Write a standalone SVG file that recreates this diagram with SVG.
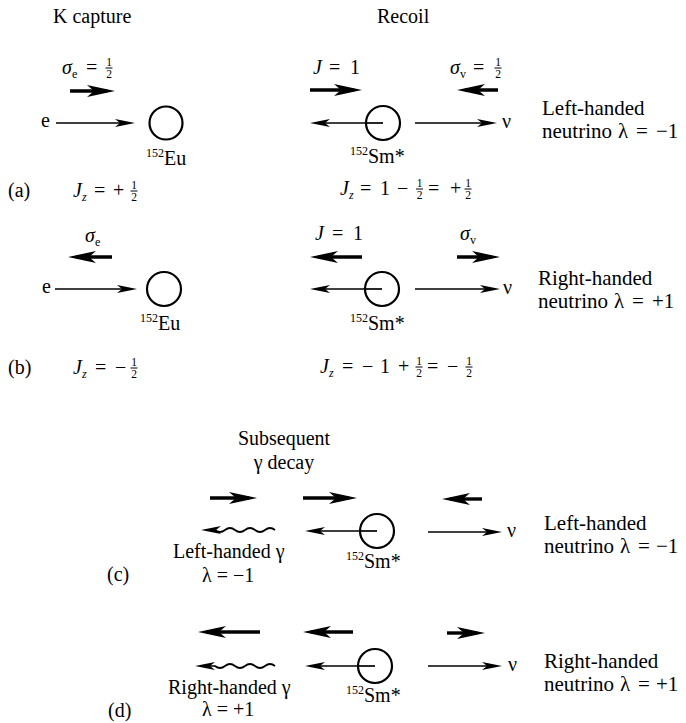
<svg xmlns="http://www.w3.org/2000/svg" width="686" height="723" viewBox="0 0 686 723" font-family="'Liberation Serif', 'DejaVu Serif', 'Times New Roman', serif">
<style>
text { font-family: 'Liberation Serif', 'DejaVu Serif', 'Times New Roman', serif; font-size: 20px; fill: #000; }
.it { font-style: italic; }
.sm { font-size: 12px; }
.fr { font-size: 11.5px; text-anchor: middle; }
.mid { text-anchor: middle; }
.lbl { font-size: 21px; }
.nuc { fill: #fff; stroke: #000; stroke-width: 2.2; }
.thin { stroke: #000; stroke-width: 1.7; fill: none; marker-end: url(#hThin); }
.thick { stroke: #000; stroke-width: 3.4; fill: none; marker-end: url(#hThick); }
.stub { stroke: #000; stroke-width: 1.7; }
.fbar { stroke: #000; stroke-width: 1; }
</style>
<defs>
<marker id="hThin" markerUnits="userSpaceOnUse" viewBox="-16 -5 22 10" refX="0" refY="0" markerWidth="22" markerHeight="10" orient="auto" overflow="visible">
<path d="M5,0 L-15,-4 L-10,0 L-15,4 Z" fill="#000"/>
</marker>
<marker id="hThick" markerUnits="userSpaceOnUse" viewBox="-21 -7 30 14" refX="0" refY="0" markerWidth="30" markerHeight="14" orient="auto" overflow="visible">
<path d="M8,0 L-20,-6 L-13,0 L-20,6 Z" fill="#000"/>
</marker>
</defs>

<g id="headings">
<text x="53" y="23">K capture</text>
<text x="377" y="23">Recoil</text>
<text class="mid" x="284" y="445">Subsequent</text>
<text class="mid" x="284" y="469">γ decay</text>
</g>

<g id="connectors">
<line class="thick" x1="70" y1="91" x2="107" y2="91"/>
<line class="thin" x1="56" y1="123" x2="130" y2="123"/>
<line class="thick" x1="310" y1="90" x2="354" y2="90"/>
<line class="thick" x1="498" y1="90" x2="465" y2="90"/>
<line class="thin" x1="383" y1="123" x2="315" y2="123"/>
<line class="thin" x1="415" y1="123" x2="492" y2="123"/>
<line class="thick" x1="112" y1="257" x2="76" y2="257"/>
<line class="thin" x1="55" y1="289" x2="132" y2="289"/>
<line class="thick" x1="362" y1="257" x2="318" y2="257"/>
<line class="thick" x1="457" y1="257" x2="492" y2="257"/>
<line class="thin" x1="382" y1="289" x2="315" y2="289"/>
<line class="thin" x1="415" y1="289" x2="495" y2="289"/>
<line class="thick" x1="210" y1="498" x2="249" y2="498"/>
<line class="thick" x1="303" y1="498" x2="349" y2="498"/>
<line class="thick" x1="482" y1="499" x2="450" y2="499"/>
<path class="thin" d="M275,530 q-5,-4 -10,0 t-10,0 t-10,0 t-10,0 t-10,0 t-10,0 L206,530"/>
<line class="thin" x1="377" y1="531" x2="310" y2="531"/>
<line class="thin" x1="428" y1="532" x2="497" y2="532"/>
<line class="thick" x1="260" y1="632" x2="206" y2="632"/>
<line class="thick" x1="353" y1="632" x2="311" y2="632"/>
<line class="thick" x1="447" y1="633" x2="477" y2="633"/>
<path class="thin" d="M275,666 q-5,-4 -10,0 t-10,0 t-10,0 t-10,0 t-10,0 t-10,0 L200,666"/>
<line class="thin" x1="375" y1="666" x2="310" y2="666"/>
<line class="thin" x1="428" y1="666" x2="497" y2="666"/>
</g>

<g id="eu-a">
<circle class="nuc" cx="166" cy="123" r="16.5"/>
<text x="146" y="165"><tspan class="sm" dy="-8">152</tspan><tspan dy="8">Eu</tspan></text>
</g>
<g id="sm-a">
<circle class="nuc" cx="383" cy="123" r="17"/>
<line class="stub" x1="383" y1="123" x2="366" y2="123"/>
<text x="350" y="163"><tspan class="sm" dy="-8">152</tspan><tspan dy="8">Sm*</tspan></text>
</g>
<g id="eu-b">
<circle class="nuc" cx="164" cy="289" r="17"/>
<text x="140" y="330"><tspan class="sm" dy="-8">152</tspan><tspan dy="8">Eu</tspan></text>
</g>
<g id="sm-b">
<circle class="nuc" cx="382" cy="289" r="17"/>
<line class="stub" x1="382" y1="289" x2="365" y2="289"/>
<text x="350" y="330"><tspan class="sm" dy="-8">152</tspan><tspan dy="8">Sm*</tspan></text>
</g>
<g id="sm-c">
<circle class="nuc" cx="377" cy="531" r="17"/>
<line class="stub" x1="377" y1="531" x2="360" y2="531"/>
<text x="346" y="568"><tspan class="sm" dy="-8">152</tspan><tspan dy="8">Sm*</tspan></text>
</g>
<g id="sm-d">
<circle class="nuc" cx="375" cy="666" r="17"/>
<line class="stub" x1="375" y1="666" x2="358" y2="666"/>
<text x="346" y="702"><tspan class="sm" dy="-8">152</tspan><tspan dy="8">Sm*</tspan></text>
</g>

<g id="labels">
<text x="41" y="127">e</text>
<text x="42" y="293">e</text>
<text x="502" y="128">ν</text>
<text x="503" y="294">ν</text>
<text x="507" y="537">ν</text>
<text x="508" y="671">ν</text>

<text x="62" y="74"><tspan class="it">σ</tspan><tspan class="sm" dy="4">e</tspan><tspan x="86" dy="-4">=</tspan></text>
<text x="109" y="66" class="fr">1</text><line class="fbar" x1="105.5" y1="68" x2="112.5" y2="68"/><text x="109" y="77.5" class="fr">2</text>
<text x="313" y="74"><tspan class="it">J</tspan><tspan x="329">=</tspan><tspan x="350">1</tspan></text>
<text x="450" y="74"><tspan class="it">σ</tspan><tspan class="sm" dy="4">v</tspan><tspan x="473" dy="-4">=</tspan></text>
<text x="498" y="66" class="fr">1</text><line class="fbar" x1="494.5" y1="68" x2="501.5" y2="68"/><text x="498" y="77.5" class="fr">2</text>

<text x="8" y="197">(a)</text>
<text x="73" y="197"><tspan class="it">J</tspan><tspan class="sm it" dy="4">z</tspan><tspan x="94" dy="-4">=</tspan><tspan x="113">+</tspan></text>
<text x="134" y="189" class="fr">1</text><line class="fbar" x1="130.5" y1="191" x2="137.5" y2="191"/><text x="134" y="200.5" class="fr">2</text>
<text x="340" y="195"><tspan class="it">J</tspan><tspan class="sm it" dy="4">z</tspan><tspan x="360" dy="-4">=</tspan><tspan x="380">1</tspan><tspan x="397">−</tspan></text>
<text x="419.5" y="187" class="fr">1</text><line class="fbar" x1="416" y1="189" x2="423" y2="189"/><text x="419.5" y="198.5" class="fr">2</text>
<text x="428" y="195">=<tspan x="450">+</tspan></text>
<text x="468" y="187" class="fr">1</text><line class="fbar" x1="464.5" y1="189" x2="471.5" y2="189"/><text x="468" y="198.5" class="fr">2</text>

<text x="85" y="242"><tspan class="it">σ</tspan><tspan class="sm" dy="4">e</tspan></text>
<text x="315" y="240"><tspan class="it">J</tspan><tspan x="332">=</tspan><tspan x="353">1</tspan></text>
<text x="460" y="240"><tspan class="it">σ</tspan><tspan class="sm" dy="4">v</tspan></text>

<text x="8" y="374">(b)</text>
<text x="73" y="374"><tspan class="it">J</tspan><tspan class="sm it" dy="4">z</tspan><tspan x="95" dy="-4">=</tspan><tspan x="115">−</tspan></text>
<text x="134" y="366" class="fr">1</text><line class="fbar" x1="130.5" y1="368" x2="137.5" y2="368"/><text x="134" y="377.5" class="fr">2</text>
<text x="320" y="373"><tspan class="it">J</tspan><tspan class="sm it" dy="4">z</tspan><tspan x="342" dy="-4">=</tspan><tspan x="362">−</tspan><tspan x="380">1</tspan><tspan x="398">+</tspan></text>
<text x="419" y="365" class="fr">1</text><line class="fbar" x1="415.5" y1="367" x2="422.5" y2="367"/><text x="419" y="376.5" class="fr">2</text>
<text x="427" y="373">=<tspan x="447">−</tspan></text>
<text x="469" y="365" class="fr">1</text><line class="fbar" x1="465.5" y1="367" x2="472.5" y2="367"/><text x="469" y="376.5" class="fr">2</text>

<text class="lbl" x="542" y="115">Left-handed</text>
<text class="lbl" x="542" y="138">neutrino<tspan x="618">λ</tspan><tspan x="636">=</tspan><tspan x="656">−1</tspan></text>
<text class="lbl" x="538" y="285">Right-handed</text>
<text class="lbl" x="538" y="308">neutrino<tspan x="614">λ</tspan><tspan x="632">=</tspan><tspan x="652">+1</tspan></text>
<text class="lbl" x="544" y="530">Left-handed</text>
<text class="lbl" x="544" y="553">neutrino<tspan x="620">λ</tspan><tspan x="638">=</tspan><tspan x="656">−1</tspan></text>
<text class="lbl" x="544" y="668">Right-handed</text>
<text class="lbl" x="544" y="691">neutrino<tspan x="620">λ</tspan><tspan x="638">=</tspan><tspan x="656">+1</tspan></text>

<text x="173" y="558">Left-handed γ</text>
<text x="202" y="582">λ = −1</text>
<text x="107" y="581">(c)</text>
<text x="168" y="694">Right-handed γ</text>
<text x="202" y="716">λ = +1</text>
<text x="108" y="717">(d)</text>
</g>
</svg>
